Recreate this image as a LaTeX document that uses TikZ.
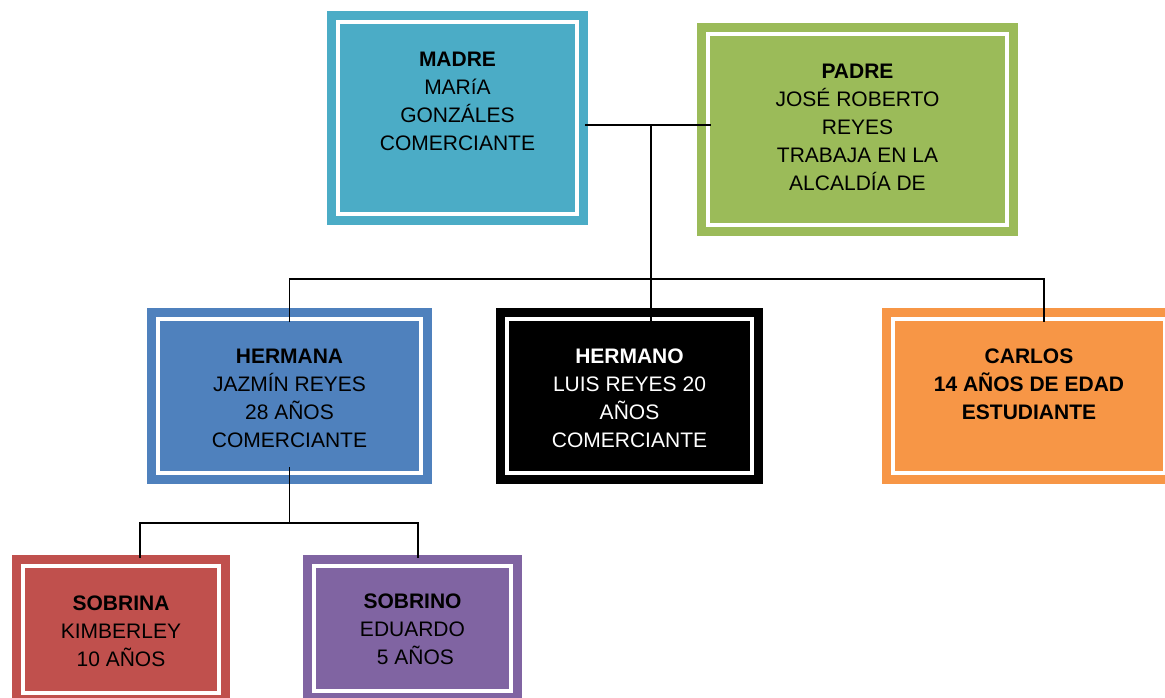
\documentclass[tikz,border=0pt]{standalone}
\usepackage{fontspec}
\setmainfont{Liberation Sans}
\usetikzlibrary{positioning}
\definecolor{madrec}{RGB}{75,172,198}
\definecolor{padrec}{RGB}{155,187,89}
\definecolor{hermanac}{RGB}{79,129,189}
\definecolor{carlosc}{RGB}{247,150,70}
\definecolor{sobrinac}{RGB}{192,80,77}
\definecolor{sobrinoc}{RGB}{128,100,162}
\tikzset{
    caja/.style={rectangle, draw=#1, fill=#1, double=white, double distance=4pt,
        line width=9pt, inner sep=0pt, outer sep=0pt},
    texto/.style={align=center, inner sep=0pt, font=\fontsize{21}{28}\selectfont},
    linea/.style={line width=1.6pt}
}

\begin{document}
\begin{tikzpicture}[x=1pt, y=-1pt]
    \useasboundingbox (0,0) rectangle (1165,698);
    \clip (0,0) rectangle (1165,698);
    \node[caja=madrec, minimum width=239pt, minimum height=192pt] (madre) at (457.5,118) {};
    \node[caja=padrec, minimum width=299pt, minimum height=191pt] (padre) at (857.5,129.5) {};
    \node[caja=hermanac, minimum width=263pt, minimum height=154pt] (hermana) at (289.5,396) {};
    \node[caja=black, minimum width=245pt, minimum height=154pt] (hermano) at (629.5,396) {};
    \node[caja=carlosc, minimum width=272pt, minimum height=154pt] (carlos) at (1029,396) {};
    \node[caja=sobrinac, minimum width=196pt, minimum height=127pt] (sobrina) at (121,629.5) {};
    \node[caja=sobrinoc, minimum width=197pt, minimum height=125pt] (sobrino) at (412.5,628.5) {};
    \node[texto, below=30pt of madre.north] (madre-t) {\textbf{MADRE}\\MARíA\\GONZÁLES\\COMERCIANTE};
    \node[texto, below=30pt of padre.north] (padre-t) {\textbf{PADRE}\\JOSÉ ROBERTO\\REYES\\TRABAJA EN LA\\ALCALDÍA DE};
    \node[texto, below=30pt of hermana.north] (hermana-t) {\textbf{HERMANA}\\JAZMÍN REYES\\28 AÑOS\\COMERCIANTE};
    \node[texto, text=white, below=30pt of hermano.north] (hermano-t) {\textbf{HERMANO}\\LUIS REYES 20\\AÑOS\\COMERCIANTE};
    \node[texto, font=\fontsize{21}{28}\selectfont\bfseries, below=30pt of carlos.north] (carlos-t) {CARLOS\\14 AÑOS DE EDAD\\ESTUDIANTE};
    \node[texto, below=30pt of sobrina.north] (sobrina-t) {\textbf{SOBRINA}\\KIMBERLEY\\10 AÑOS};
    \begin{scope}
        \clip (300,550) rectangle (525,664.5);
        \node[texto, below=28pt of sobrino.north] (sobrino-t) {\textbf{SOBRINO}\\EDUARDO\\\ 5 AÑOS};
    \end{scope}
    \coordinate (union) at (651,125);
    \coordinate (bus) at (1044,279);
    \coordinate (hijos-i) at (140,523);
    \coordinate (hijos-d) at (418,523);
    \draw[linea, shorten <=8pt, shorten >=-3pt] (madre.east |- union) -- (padre.west |- union);
    \draw[linea, shorten >=-3pt] (union) -- (union |- hermano.north);
    \draw[linea, shorten <=-3pt, shorten >=-3pt] (hermana.north) |- (bus) -- (bus |- carlos.north);
    \draw[linea, shorten <=-6pt] (hermana.south) -- (hermana.south |- hijos-i);
    \draw[linea, shorten <=8pt, shorten >=8pt] (hijos-i |- sobrina.north) -- (hijos-i) -- (hijos-d) -- (hijos-d |- sobrino.north);
\end{tikzpicture}
\end{document}
